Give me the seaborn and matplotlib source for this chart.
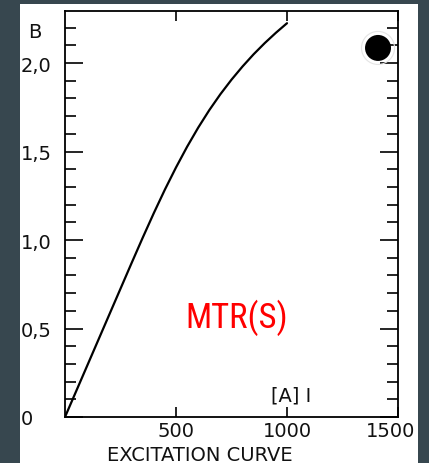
import matplotlib
matplotlib.use("Agg")
import matplotlib.pyplot as plt
from matplotlib import font_manager
from matplotlib.patches import Rectangle
from matplotlib.ticker import MultipleLocator
from matplotlib.transforms import ScaledTranslation
import pandas as pd
import seaborn as sns

# Excitation curve of the MTR(S) magnet: field B against coil current I [A]
current_a = [0, 50, 100, 150, 200, 250, 300, 350, 400, 450, 500,
             550, 600, 650, 700, 750, 800, 850, 900, 950, 1000]
field_b = [0.0, 0.145, 0.29, 0.435, 0.58, 0.725, 0.87, 1.013, 1.152, 1.285, 1.41,
           1.527, 1.635, 1.734, 1.824, 1.906, 1.981, 2.05, 2.113, 2.171, 2.225]

x_ticks = [500, 1000, 1500]
x_tick_labels = ["500", "1000", "1500"]
y_ticks = [0.0, 0.5, 1.0, 1.5, 2.0]
y_tick_labels = ["0", "0,5", "1,0", "1,5", "2,0"]


def pick_font(candidates):
    names = {f.name for f in font_manager.fontManager.ttflist}
    for name in candidates:
        if name in names:
            return name
    return "DejaVu Sans"


sns.set_theme(style="white")
name_font = pick_font(["Roboto Condensed", "Liberation Sans Narrow", "Roboto"])
plt.rcParams["font.family"] = ["DejaVu Sans"]

W, H = 429, 464
INK = "#111111"
fig = plt.figure(figsize=(W / 100, H / 100), dpi=100, facecolor="#37474f")

# white sheet behind the plot
fig.patches.append(Rectangle((20 / W, 0), 398 / W, 1 - 5 / H,
                             transform=fig.transFigure, facecolor="white",
                             edgecolor="none", zorder=-1))

ax = fig.add_axes([65 / W, 1 - 418 / H, 333 / W, 406 / H])
ax.set_facecolor("white")

df = pd.DataFrame({"I": current_a, "B": field_b})
sns.lineplot(data=df, x="I", y="B", ax=ax, color="black", linewidth=1.6)

ax.set_xlim(0, 1500)
ax.set_ylim(0, 2.294)
ax.set_xlabel("")
ax.set_ylabel("")

ax.set_xticks(x_ticks, x_tick_labels)
ax.set_yticks(y_ticks, y_tick_labels)
ax.yaxis.set_minor_locator(MultipleLocator(0.1))

ax.tick_params(axis="x", which="major", direction="in", length=7, width=1.2,
               top=True, bottom=True, labelsize=14, pad=3.0, color="black",
               labelcolor=INK)
ax.tick_params(axis="y", which="major", direction="in", length=13, width=1.2,
               left=True, right=True, labelleft=True, labelright=False,
               labelsize=14, pad=31.7, color="black", labelcolor=INK)
ax.tick_params(axis="y", which="minor", direction="in", length=8, width=1.2,
               left=True, right=True, color="black")
for lbl in ax.get_yticklabels():
    lbl.set_horizontalalignment("left")

# keep the last current label on the sheet
last = ax.get_xticklabels()[-1]
last.set_transform(last.get_transform()
                   + ScaledTranslation(-7 / 100, 0, fig.dpi_scale_trans))

for side in ["left", "right", "top", "bottom"]:
    ax.spines[side].set_visible(True)
    ax.spines[side].set_color("black")
    ax.spines[side].set_linewidth(1.3)

# axis names and caption
fig.text(28 / W, 1 - 32 / H, "B", ha="left", va="center", fontsize=14,
         color=INK)
ax.text(0.679, 0.054, "[A] I", transform=ax.transAxes, ha="center",
        va="center", fontsize=14, color=INK)
fig.text(200 / W, 1 - 446 / H, "EXCITATION CURVE", ha="center", va="top",
         fontsize=14, color=INK)

# magnet name
ax.text(0.517, 0.246, "MTR(S)", transform=ax.transAxes, ha="center",
        va="center", fontsize=25, color="#ff0000",
        family=[name_font, "DejaVu Sans"])

# punched hole in the sheet
ax.scatter([0.94], [0.909], transform=ax.transAxes, s=566, facecolor="none",
           edgecolor="#e4e4e4", linewidth=0.8, clip_on=False, zorder=4)
ax.scatter([0.94], [0.909], transform=ax.transAxes, s=350, color="black",
           edgecolor="none", clip_on=False, zorder=5)

fig.savefig("out.png", dpi=100, facecolor=fig.get_facecolor())
